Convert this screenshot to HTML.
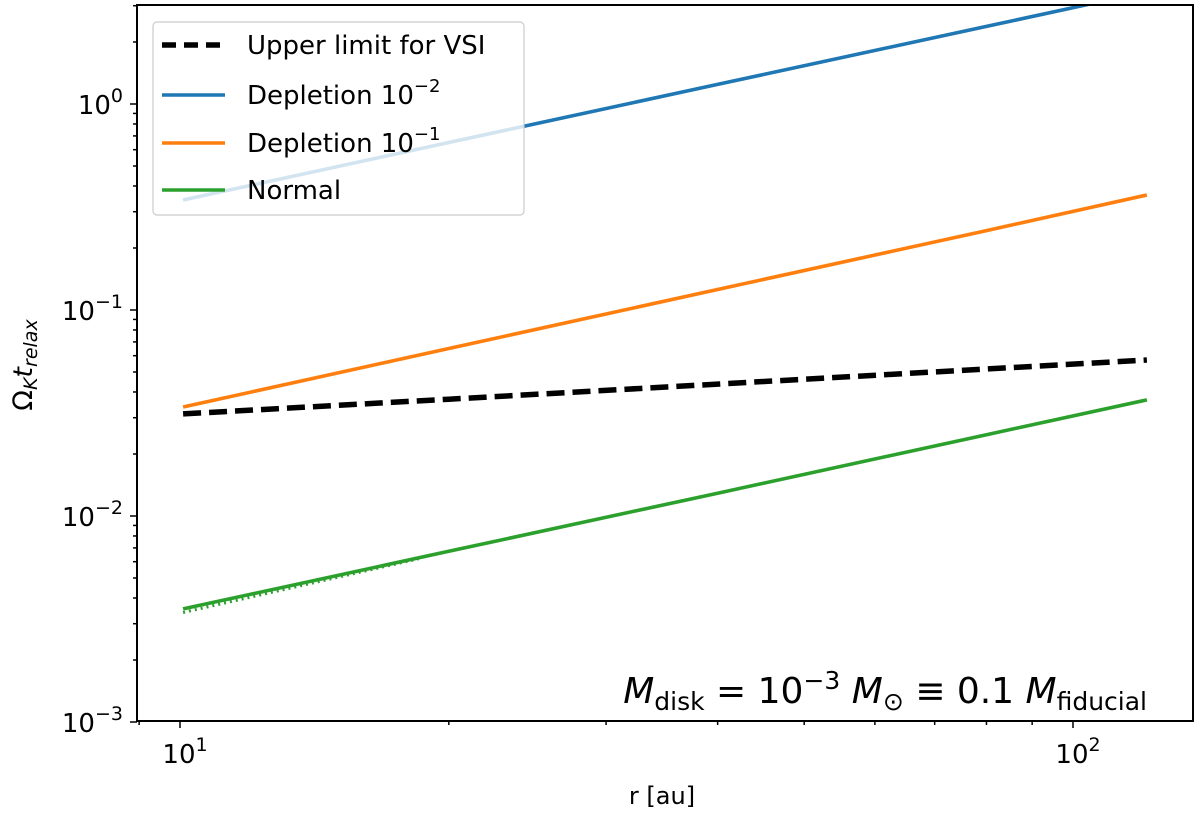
<!DOCTYPE html>
<html><head><meta charset="utf-8">
<style>
body{margin:0;background:#fff;}
svg{display:block;font-family:"DejaVu Sans","Liberation Sans",sans-serif;}
</style></head>
<body>
<svg id="chart" width="1200" height="818" viewBox="0 0 1200 818" xmlns="http://www.w3.org/2000/svg">
<g id="plot"></g>
</svg>
<script>
const radii = [10.08, 20, 40, 80, 121];
const depletion2 = [0.342, 0.650, 1.245, 2.38, 3.51];
const depletion1 = [0.0338, 0.0650, 0.1257, 0.243, 0.3616];
const vsiLimit = [0.0313, 0.0369, 0.0437, 0.0517, 0.0572];
const normal = [0.00354, 0.00674, 0.0129, 0.0248, 0.0366];
const normalDottedR = [10.08, 14, 18.5];
const normalDotted = [0.00340, 0.00470, 0.00620];
const yTickExp = [0, -1, -2, -3];
const xTickExp = [1, 2];

const L=137,R=1193,T=5,B=721;
const X0=180,XD=893;
const Y0=104,YD=206;
function xs(r){return X0+(Math.log10(r)-1)*XD;}
function ys(v){return Y0-Math.log10(v)*YD;}
const NS="http://www.w3.org/2000/svg";
const svg=document.getElementById('chart');
function mk(tag,attrs,parent){const e=document.createElementNS(NS,tag);for(const k in attrs)e.setAttribute(k,attrs[k]);(parent||svg).appendChild(e);return e;}

const clip=mk('clipPath',{id:'clip'});mk('rect',{x:L,y:T,width:R-L,height:B-T},clip);
const g=mk('g',{'clip-path':'url(#clip)'});



function line(rs,vs,color,w,dash,name){
  const d=rs.map((r,i)=>(i?'L':'M')+xs(r).toFixed(1)+','+ys(vs[i]).toFixed(1)).join(' ');
  const p=mk('path',{d:d,fill:'none',stroke:color,'stroke-width':w,'stroke-dasharray':dash||'none'},g);
  
  
}
line(normalDottedR,normalDotted,'#2ca02c',3,'2,4','normal-dotted-line');
line(radii,depletion2,'#1f77b4',3.6,null,'depletion-1e-2-line');
line(radii,depletion1,'#ff7f0e',3.6,null,'depletion-1e-1-line');
line(radii,vsiLimit,'#000',5.5,'18,8','vsi-upper-limit-line');
line(radii,normal,'#2ca02c',3.6,null,'normal-line');

const fr=mk('rect',{x:L,y:T,width:R-L,height:B-T,fill:'none',stroke:'#000','stroke-width':2});



for(let e=-3;e<=0;e++){
  for(let m=1;m<10;m++){
    const v=m*Math.pow(10,e);const y=ys(v);
    if(y<T-0.5)continue;
    const len=m===1?7:4;
    const t=mk('line',{x1:L-len,x2:L,y1:y,y2:y,stroke:'#000','stroke-width':1.5});
    
    
  }
}
yTickExp.forEach(e=>{
  const t=mk('text',{x:L-14,y:ys(Math.pow(10,e))+10,'text-anchor':'end','font-size':26});
  
  
  t.innerHTML='10<tspan dy="-12" font-size="19">'+(e===0?'0':'\u2212'+(-e))+'</tspan>';
});
for(let e=0;e<=2;e++){
  for(let m=1;m<10;m++){
    const r=m*Math.pow(10,e);const x=xs(r);
    if(x<L||x>R)continue;
    const len=m===1?7:4;
    const t=mk('line',{x1:x,x2:x,y1:B,y2:B+len,stroke:'#000','stroke-width':1.5});
    
    
  }
}
xTickExp.forEach(e=>{
  const t=mk('text',{x:xs(Math.pow(10,e))+5,y:B+42,'text-anchor':'middle','font-size':26});
  
  
  t.innerHTML='10<tspan dy="-12" font-size="19">'+e+'</tspan>';
});
const xt=mk('text',{x:662,y:804,'text-anchor':'middle','font-size':24});


xt.textContent='r [au]';
const yt=mk('text',{x:0,y:0,'text-anchor':'middle','font-size':27,transform:'translate(32,365) rotate(-90)'});


yt.innerHTML='\u03A9<tspan font-size="19" font-style="italic" dy="5">K</tspan><tspan font-style="italic" dy="-5">t</tspan><tspan font-size="19" font-style="italic" dy="5">relax</tspan>';

const an=mk('text',{x:1147,y:703,'text-anchor':'end','font-size':36});


an.innerHTML='<tspan font-style="italic">M</tspan><tspan font-size="25" dy="7">disk</tspan><tspan dy="-7"> = 10</tspan><tspan font-size="25" dy="-14">\u22123</tspan><tspan dy="14" font-style="italic"> M</tspan><tspan font-size="25" dy="7">\u2299</tspan><tspan dy="-7"> \u2261 0.1 </tspan><tspan font-style="italic">M</tspan><tspan font-size="25" dy="7">fiducial</tspan>';

const lg=mk('g',{});


mk('rect',{x:153,y:22,width:371,height:193,rx:4,fill:'rgba(255,255,255,0.8)',stroke:'#ccc','stroke-width':1.2},lg);
const entries=[['Upper limit for VSI','#000','14,8',5.5,null],['Depletion 10','#1f77b4',null,3.6,'\u22122'],['Depletion 10','#ff7f0e',null,3.6,'\u22121'],['Normal','#2ca02c',null,3.6,null]];
const ey=[45,95,143,190];
entries.forEach((en,i)=>{
  const eg=mk('g',{},lg);
  
  
  mk('line',{x1:162,x2:225,y1:ey[i],y2:ey[i],stroke:en[1],'stroke-width':en[3],'stroke-dasharray':en[2]||'none'},eg);
  const t=mk('text',{x:247,y:ey[i]+9,'font-size':26},eg);
  t.innerHTML=en[0]+(en[4]?'<tspan dy="-12" font-size="18">'+en[4]+'</tspan>':'');
});
</script>
</body></html>
